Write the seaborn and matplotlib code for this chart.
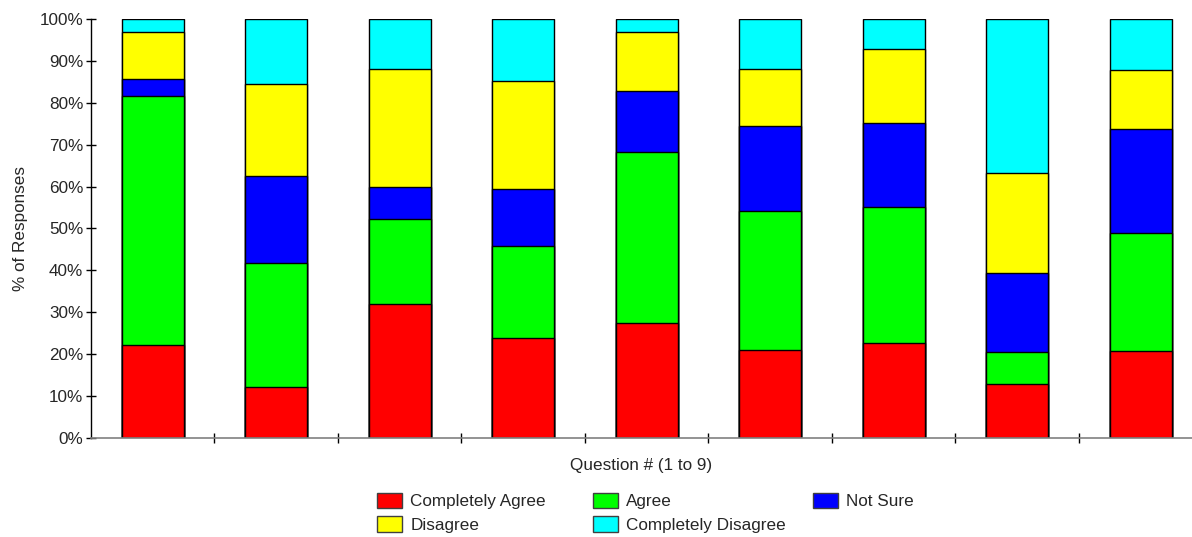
import numpy as np
import pandas as pd
import matplotlib
matplotlib.use("Agg")
import matplotlib.pyplot as plt
import seaborn as sns
from matplotlib.patches import Patch
from matplotlib.ticker import FuncFormatter

# --- Data (percent of responses per question) ---
questions = ["1", "2", "3", "4", "5", "6", "7", "8", "9"]
completely_agree = [22.1, 12.1, 31.9, 23.9, 27.4, 21.1, 22.6, 12.8, 20.7]
agree = [59.6, 29.6, 20.4, 22.0, 40.9, 33.1, 32.6, 7.8, 28.2]
not_sure = [3.9, 20.9, 7.7, 13.5, 14.4, 20.2, 19.9, 18.7, 24.9]
disagree = [11.2, 22.0, 28.1, 25.9, 14.3, 13.7, 17.8, 23.9, 14.1]
completely_disagree = [3.2, 15.4, 11.9, 14.7, 3.0, 11.9, 7.1, 36.8, 12.1]

series_names = ["Completely Agree", "Agree", "Not Sure", "Disagree", "Completely Disagree"]
series_colors = ["#FF0000", "#00FF00", "#0000FF", "#FFFF00", "#00FFFF"]

# --- Style ---
sns.set_style("white")
plt.rcParams["font.family"] = ["Liberation Sans", "DejaVu Sans"]
FS = 12.3

df = pd.DataFrame({
    "question": questions,
    "Completely Agree": completely_agree,
    "Agree": agree,
    "Not Sure": not_sure,
    "Disagree": disagree,
    "Completely Disagree": completely_disagree,
})
cum = df[series_names].cumsum(axis=1)

fig = plt.figure(figsize=(11.92, 5.37), dpi=100)
ax = fig.add_axes([91 / 1192, 1 - 438 / 537, 1101 / 1192, 419 / 537])

# stacked bars: draw cumulative totals from tallest to shortest
for name, color in reversed(list(zip(series_names, series_colors))):
    sns.barplot(x=df["question"], y=cum[name], color=color, width=0.5,
                edgecolor="black", linewidth=1, saturation=1, ax=ax)

ax.set_ylim(0, 100)
ax.set_xlim(-0.5, 8.415)
ax.set_yticks(np.arange(0, 101, 10))
ax.yaxis.set_major_formatter(FuncFormatter(lambda v, p: f"{v:.0f}%"))
ax.set_xticks(np.arange(0.5, 8, 1))
ax.set_xticklabels([])
ax.tick_params(axis="both", which="major", direction="inout", length=7,
               width=1, color="black", left=True, bottom=True,
               labelsize=FS, pad=2)

for side in ["top", "right"]:
    ax.spines[side].set_visible(False)
ax.spines["left"].set_color("black")
ax.spines["bottom"].set_color("#808080")
ax.spines["left"].set_linewidth(1)
ax.spines["bottom"].set_linewidth(1.2)

ax.set_ylabel("% of Responses", fontsize=FS, labelpad=8)
ax.set_xlabel("Question # (1 to 9)", fontsize=FS, labelpad=9)

# legend: two columns on the left, "Not Sure" on its own to the right
legend_kw = dict(loc="upper left", frameon=False, fontsize=FS,
                 handlelength=1.45, handleheight=1.0, labelspacing=0.4,
                 handletextpad=0.5, borderpad=0, borderaxespad=0)
order = [0, 3, 1, 4]
fig.legend([Patch(facecolor=series_colors[i], edgecolor="#404040", linewidth=1)
            for i in order],
           [series_names[i] for i in order], ncol=2, columnspacing=2.75,
           bbox_to_anchor=(377 / 1192, 1 - 493 / 537), **legend_kw)
fig.legend([Patch(facecolor=series_colors[2], edgecolor="#404040", linewidth=1)],
           [series_names[2]],
           bbox_to_anchor=(813 / 1192, 1 - 493 / 537), **legend_kw)

fig.savefig("out.png", dpi=100)
